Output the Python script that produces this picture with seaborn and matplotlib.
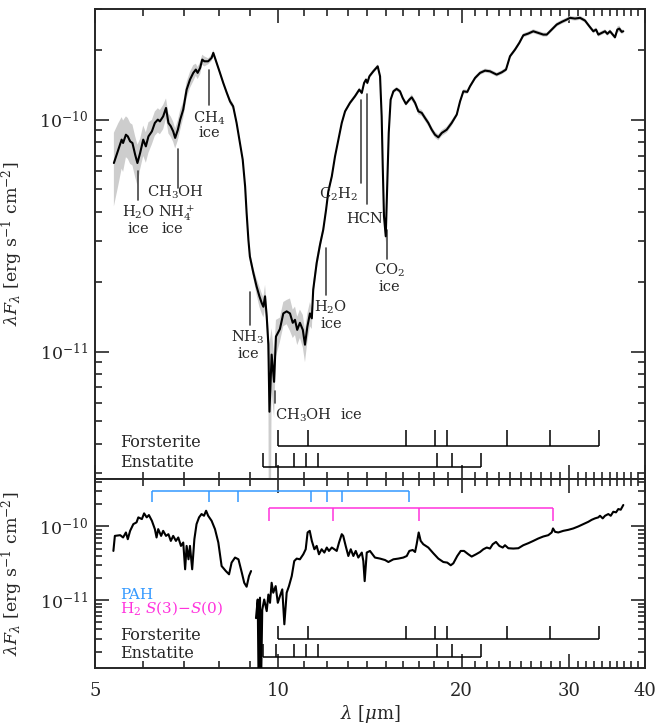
import numpy as np
import pandas as pd
import matplotlib
matplotlib.use('Agg')
import matplotlib.pyplot as plt
import seaborn as sns
from matplotlib.ticker import FixedLocator, FixedFormatter, NullFormatter, LogLocator, LogFormatterSciNotation

# ---------------- data (flux in units of 1e-10 erg s^-1 cm^-2) ----------------
top_lam = [5.37, 5.46, 5.53, 5.56, 5.62, 5.66, 5.71, 5.76, 5.82, 5.87,
           5.93, 6.00, 6.06, 6.12, 6.20, 6.27, 6.34, 6.39, 6.47, 6.54,
           6.60, 6.66, 6.72, 6.77, 6.84, 6.90, 6.98, 7.07, 7.16, 7.25,
           7.32, 7.37, 7.44, 7.50, 7.56, 7.67, 7.77, 7.82, 7.92, 8.02,
           8.12, 8.23, 8.33, 8.43, 8.54, 8.65, 8.74, 8.82, 8.87, 8.93,
           8.98, 9.10, 9.21, 9.31, 9.39, 9.45, 9.51, 9.57, 9.63, 9.67,
           9.75, 9.84, 9.91, 10.06, 10.19, 10.32, 10.45, 10.56, 10.65, 10.74,
           10.85, 10.97, 11.06, 11.16, 11.27, 11.35, 11.41, 11.56, 11.71, 11.85,
           11.98, 12.08, 12.24, 12.39, 12.55, 12.71, 12.87, 13.11, 13.36, 13.58,
           13.71, 13.83, 13.93, 14.00, 14.11, 14.32, 14.56, 14.69, 14.78, 14.84,
           14.91, 15.01, 15.10, 15.18, 15.29, 15.45, 15.64, 15.84, 16.00, 16.20,
           16.41, 16.56, 16.77, 16.98, 17.20, 17.41, 17.63, 17.86, 18.08, 18.31,
           18.55, 18.90, 19.26, 19.63, 19.88, 20.13, 20.43, 20.64, 21.04, 21.44,
           21.85, 22.26, 22.83, 23.27, 23.65, 24.01, 24.47, 24.87, 25.25, 25.73,
           26.22, 26.72, 27.23, 27.59, 28.11, 28.65, 29.20, 29.75, 30.13, 30.70,
           31.29, 31.88, 32.41, 32.90, 33.24, 33.53, 33.96, 34.39, 34.69, 35.04,
           35.48, 35.71, 36.03, 36.30, 36.63, 36.85]
top_flux = [0.650, 0.742, 0.820, 0.793, 0.861, 0.847, 0.806, 0.793, 0.706, 0.650,
            0.718, 0.820, 0.767, 0.847, 0.890, 0.968, 1.000, 0.983, 1.033, 1.123,
            0.968, 0.936, 0.890, 0.834, 0.905, 1.000, 1.105, 1.347, 1.488, 1.591,
            1.644, 1.591, 1.671, 1.815, 1.785, 1.785, 1.846, 1.940, 1.757, 1.591,
            1.440, 1.304, 1.199, 1.141, 0.968, 0.793, 0.672, 0.515, 0.396, 0.303,
            0.257, 0.218, 0.191, 0.173, 0.162, 0.156, 0.173, 0.142, 0.107, 0.055,
            0.097, 0.074, 0.116, 0.125, 0.146, 0.149, 0.146, 0.133, 0.137, 0.124,
            0.133, 0.124, 0.107, 0.128, 0.146, 0.139, 0.185, 0.241, 0.290, 0.335,
            0.410, 0.490, 0.569, 0.694, 0.820, 0.968, 1.086, 1.181, 1.261, 1.347,
            1.304, 1.440, 1.488, 1.440, 1.538, 1.616, 1.698, 1.538, 1.033, 0.629,
            0.383, 0.314, 0.533, 0.876, 1.220, 1.325, 1.357, 1.325, 1.241, 1.169,
            1.220, 1.248, 1.181, 1.086, 1.069, 1.017, 0.968, 0.905, 0.861, 0.839,
            0.876, 0.905, 0.968, 1.051, 1.199, 1.325, 1.317, 1.392, 1.513, 1.591,
            1.627, 1.616, 1.564, 1.600, 1.644, 1.876, 2.005, 2.143, 2.311, 2.351,
            2.405, 2.367, 2.327, 2.327, 2.446, 2.571, 2.640, 2.701, 2.748, 2.728,
            2.748, 2.675, 2.527, 2.405, 2.446, 2.327, 2.367, 2.405, 2.344, 2.405,
            2.311, 2.266, 2.446, 2.470, 2.391, 2.405]
top_err = [0.35, 0.30, 0.25, 0.25, 0.20, 0.20, 0.20, 0.20, 0.20, 0.20,
           0.15, 0.15, 0.15, 0.15, 0.12, 0.12, 0.12, 0.12, 0.12, 0.10,
           0.10, 0.10, 0.10, 0.10, 0.10, 0.10, 0.08, 0.08, 0.08, 0.08,
           0.06, 0.06, 0.06, 0.05, 0.05, 0.03, 0.03, 0.03, 0.02, 0.02,
           0.02, 0.02, 0.03, 0.03, 0.02, 0.02, 0.02, 0.02, 0.02, 0.03,
           0.05, 0.05, 0.08, 0.10, 0.10, 0.10, 0.12, 0.12, 0.20, 0.97,
           0.30, 0.30, 0.18, 0.12, 0.12, 0.12, 0.16, 0.14, 0.14, 0.14,
           0.14, 0.16, 0.16, 0.14, 0.12, 0.10, 0.08, 0.06, 0.05, 0.04,
           0.04, 0.03, 0.03, 0.02, 0.02, 0.02, 0.02, 0.02, 0.02, 0.02,
           0.02, 0.02, 0.02, 0.02, 0.02, 0.02, 0.02, 0.02, 0.03, 0.04,
           0.05, 0.06, 0.04, 0.03, 0.02, 0.02, 0.02, 0.02, 0.02, 0.02,
           0.02, 0.03, 0.03, 0.03, 0.03, 0.03, 0.03, 0.03, 0.03, 0.03,
           0.03, 0.03, 0.03, 0.02, 0.02, 0.02, 0.02, 0.02, 0.02, 0.02,
           0.02, 0.02, 0.02, 0.02, 0.02, 0.02, 0.02, 0.02, 0.02, 0.02,
           0.02, 0.02, 0.02, 0.02, 0.02, 0.02, 0.02, 0.02, 0.02, 0.02,
           0.02, 0.02, 0.02, 0.02, 0.02, 0.02, 0.02, 0.02, 0.02, 0.02,
           0.02, 0.02, 0.03, 0.03, 0.02, 0.02]

bot_lam_a = [5.36, 5.39, 5.50, 5.56, 5.62, 5.66, 5.71, 5.78, 5.85, 5.89,
             5.97, 6.02, 6.08, 6.13, 6.20, 6.27, 6.31, 6.35, 6.42, 6.47,
             6.54, 6.60, 6.66, 6.72, 6.79, 6.85, 6.92, 6.98, 7.03, 7.07,
             7.12, 7.16, 7.22, 7.28, 7.34, 7.41, 7.48, 7.55, 7.61, 7.67,
             7.77, 7.87, 7.97, 8.07, 8.20, 8.30, 8.38, 8.49, 8.60, 8.71,
             8.79, 8.87, 8.95, 9.02]
bot_flux_a = [0.465, 0.744, 0.761, 0.708, 0.828, 0.671, 0.871, 1.075, 1.134, 1.327,
              1.258, 1.504, 1.327, 1.426, 1.192, 0.919, 0.708, 0.919, 0.744, 0.871,
              0.744, 0.785, 0.636, 0.744, 0.636, 0.708, 0.544, 0.605, 0.262, 0.544,
              0.358, 0.544, 0.262, 0.671, 1.075, 1.327, 1.472, 1.395, 1.632, 1.395,
              1.192, 0.919, 0.605, 0.290, 0.248, 0.224, 0.323, 0.378, 0.358, 0.236,
              0.172, 0.152, 0.212, 0.248]
bot_lam_b = [9.19, 9.25, 9.28, 9.33, 9.37, 9.41, 9.48, 9.57, 9.63, 9.69,
             9.75, 9.81, 9.90, 9.98, 10.06, 10.15, 10.23, 10.32, 10.41, 10.52,
             10.62, 10.72, 10.85, 10.99, 11.09, 11.17, 11.26, 11.35, 11.46, 11.56,
             11.66, 11.78, 11.90, 12.01, 12.11, 12.24, 12.36, 12.47, 12.58, 12.71,
             12.78, 12.90, 13.03, 13.15, 13.28, 13.40, 13.53, 13.71, 13.79, 13.86,
             13.97, 14.14, 14.41, 14.69, 14.97, 15.16, 15.45, 15.74, 16.04, 16.25,
             16.41, 16.62, 16.77, 16.87, 17.00, 17.13, 17.30, 17.63, 17.97, 18.31,
             18.66, 18.94, 19.19, 19.38, 19.67, 19.93, 20.18, 20.51, 20.77, 21.12,
             21.44, 21.71, 21.99, 22.26, 22.49, 22.77, 23.06, 23.36, 23.56, 23.86,
             24.31, 24.78, 25.25, 25.73, 26.22, 26.72, 27.23, 27.75, 28.11, 28.25,
             28.47, 28.82, 29.37, 29.93, 30.50, 31.09, 31.68, 32.28, 32.70, 33.11,
             33.53, 33.74, 34.09, 34.39, 34.82, 35.14, 35.48, 35.85, 36.16, 36.49,
             36.85]
bot_flux_b = [0.057, 0.102, 0.008, 0.108, 0.008, 0.074, 0.102, 0.071, 0.119, 0.092,
              0.172, 0.126, 0.155, 0.092, 0.113, 0.140, 0.047, 0.126, 0.155, 0.212,
              0.339, 0.366, 0.358, 0.419, 0.490, 0.828, 0.871, 0.636, 0.490, 0.544,
              0.419, 0.490, 0.442, 0.517, 0.465, 0.517, 0.490, 0.465, 0.605, 0.785,
              0.744, 0.544, 0.397, 0.490, 0.397, 0.465, 0.378, 0.442, 0.339, 0.181,
              0.442, 0.465, 0.378, 0.366, 0.350, 0.329, 0.358, 0.366, 0.378, 0.397,
              0.465, 0.479, 0.450, 0.573, 0.828, 0.636, 0.573, 0.517, 0.432, 0.366,
              0.329, 0.323, 0.297, 0.316, 0.397, 0.465, 0.465, 0.419, 0.390, 0.419,
              0.450, 0.490, 0.517, 0.501, 0.573, 0.616, 0.544, 0.517, 0.556, 0.506,
              0.501, 0.506, 0.556, 0.592, 0.636, 0.686, 0.730, 0.761, 0.828, 0.939,
              0.844, 0.828, 0.871, 0.899, 0.939, 1.000, 1.075, 1.155, 1.230, 1.286,
              1.327, 1.395, 1.286, 1.395, 1.472, 1.395, 1.582, 1.552, 1.722, 1.685,
              1.953]

forsterite = [10.0, 11.2, 16.2, 18.1, 18.9, 23.7, 27.9, 33.6]
enstatite = [9.45, 9.9, 10.6, 11.1, 11.6, 18.2, 19.3, 21.5]
pah = [6.2, 7.7, 8.6, 11.3, 12.0, 12.7, 16.4]
h2_lines = [9.66, 12.28, 17.03, 28.22]

x_ticks = [5, 10, 20, 30, 40]
x_ticklabels = ['5', '10', '20', '30', '40']
x_minor = [6, 7, 8, 9, 11, 12, 13, 14, 15, 16, 17, 18, 19, 21, 22, 23, 24, 25,
           26, 27, 28, 29, 31, 32, 33, 34, 35, 36, 37, 38, 39]

# ice / gas feature labels: (lines of text, text x, baselines, marker x, marker y0, marker y1, ha)
features = [
    (['H$_2$O', 'ice'], 5.89, [0.381, 0.325], 5.89, 0.598, 0.452, 'center'),
    (['CH$_3$OH'], 6.78, [0.468], 6.84, 0.750, 0.509, 'center'),
    (['NH$_4^+$'], 6.81, [0.380], None, None, None, 'center'),
    (['ice'], 6.70, [0.325], None, None, None, 'center'),
    (['CH$_4$', 'ice'], 7.70, [0.973, 0.839], 7.69, 1.644, 1.161, 'center'),
    (['NH$_3$', 'ice'], 8.92, [0.1104, 0.0936], 8.98, 0.180, 0.130, 'center'),
    (['CH$_3$OH  ice'], 9.88, [0.0507], 9.89, 0.0677, 0.0600, 'left'),
    (['H$_2$O', 'ice'], 12.20, [0.1484, 0.1266], 11.98, 0.280, 0.176, 'center'),
    (['CO$_2$', 'ice'], 15.20, [0.2143, 0.1815], 15.06, 0.335, 0.251, 'center'),
    (['C$_2$H$_2$'], 13.51, [0.456], 13.65, 1.220, 0.535, 'right'),
    (['HCN'], 13.85, [0.360], 13.97, 1.295, 0.434, 'center'),
]

# ---------------- style ----------------
sns.set_theme(style='ticks')
plt.rcParams['font.family'] = ['DejaVu Serif', 'DejaVu Sans']
plt.rcParams['mathtext.fontset'] = 'dejavuserif'
plt.rcParams['axes.linewidth'] = 1.4

W, H = 656, 724
fig = plt.figure(figsize=(W / 100, H / 100), dpi=100)
ax1 = fig.add_axes([95 / W, 1 - 479 / H, 550 / W, 470 / H])
ax2 = fig.add_axes([95 / W, 1 - 668 / H, 550 / W, 189 / H])

E10 = 1e-10
top = pd.DataFrame({'lam': top_lam, 'flux': np.array(top_flux) * E10,
                    'err': top_err})
bot = pd.concat([
    pd.DataFrame({'lam': bot_lam_a, 'flux': np.array(bot_flux_a) * E10, 'seg': 0}),
    pd.DataFrame({'lam': bot_lam_b, 'flux': np.array(bot_flux_b) * E10, 'seg': 1}),
])

# top panel
ax1.fill_between(top['lam'], top['flux'] * (1 - top['err']),
                 top['flux'] * (1 + top['err']), color='#cdcdcd', lw=0, zorder=1)
sns.lineplot(data=top, x='lam', y='flux', ax=ax1, color='black', lw=1.5,
             sort=False, estimator=None, zorder=3)
# bottom panel
sns.lineplot(data=bot, x='lam', y='flux', units='seg', estimator=None, sort=False,
             ax=ax2, color='black', lw=1.5, zorder=3)

YLAB = r'$\lambda F_\lambda$ [erg s$^{-1}$ cm$^{-2}$]'
for ax in (ax1, ax2):
    ax.set_xscale('log')
    ax.set_yscale('log')
    ax.set_xlim(5, 40)
    ax.xaxis.set_major_locator(FixedLocator(x_ticks))
    ax.xaxis.set_minor_locator(FixedLocator(x_minor))
    ax.xaxis.set_minor_formatter(NullFormatter())
    ax.yaxis.set_major_locator(LogLocator(base=10))
    ax.yaxis.set_minor_locator(LogLocator(base=10, subs=np.arange(2, 10)))
    ax.yaxis.set_major_formatter(LogFormatterSciNotation())
    ax.yaxis.set_minor_formatter(NullFormatter())
    ax.tick_params(which='both', direction='in', top=True, right=True, width=1.2)
    ax.tick_params(which='major', length=10)
    ax.tick_params(which='minor', length=5)
    ax.tick_params(axis='y', labelsize=12.5, pad=5)
    ax.tick_params(axis='x', labelsize=13, pad=10)
    ax.set_ylabel(YLAB, fontsize=12.5)
    ax.yaxis.set_label_coords(-0.127, 0.5)
    ax.set_xlabel('')

ax1.set_ylim(2.82e-12, 3.0e-10)
ax2.set_ylim(1.2e-12, 4.4e-10)
ax1.xaxis.set_major_formatter(NullFormatter())
ax2.xaxis.set_major_formatter(FixedFormatter(x_ticklabels))
ax2.set_xlabel(r'$\lambda$ [$\mu$m]', fontsize=13)
ax2.xaxis.set_label_coords(0.5, -0.185)


def bracket(ax, xs, y_line, y_tick, color, lw=1.1):
    ax.plot([min(xs), max(xs)], [y_line, y_line], color=color, lw=lw,
            solid_capstyle='butt', zorder=2)
    ax.vlines(xs, y_line, y_tick, color=color, lw=lw, zorder=2)


FS = 11.5
# top panel features
for lines, tx, bases, mx, my0, my1, ha in features:
    for s, b in zip(lines, bases):
        ax1.text(tx, b * E10, s, ha=ha, va='baseline', fontsize=10.5)
    if mx is not None:
        ax1.plot([mx, mx], [my0 * E10, my1 * E10], color='#444444', lw=1.2, zorder=2)

bracket(ax1, forsterite, 0.0392 * E10, 0.0459 * E10, 'black')
bracket(ax1, enstatite, 0.0319 * E10, 0.0366 * E10, 'black')
ax1.text(5.50, 0.0388 * E10, 'Forsterite', fontsize=FS, va='baseline')
ax1.text(5.50, 0.0319 * E10, 'Enstatite', fontsize=FS, va='baseline')

# bottom panel markers
PAH_C = '#3399ff'
H2_C = '#ff33dd'
bracket(ax2, pah, 3.06 * E10, 2.145 * E10, PAH_C)
bracket(ax2, h2_lines, 1.76 * E10, 1.18 * E10, H2_C)
bracket(ax2, forsterite, 0.0299 * E10, 0.0450 * E10, 'black')
bracket(ax2, enstatite, 0.0168 * E10, 0.0253 * E10, 'black')
ax2.text(5.50, 0.104 * E10, 'PAH', color=PAH_C, fontsize=11, va='baseline')
ax2.text(5.50, 0.0670 * E10, r'H$_2$ $S$(3)$-$$S$(0)', color=H2_C, fontsize=11, va='baseline')
ax2.text(5.50, 0.0290 * E10, 'Forsterite', fontsize=FS, va='baseline')
ax2.text(5.50, 0.0163 * E10, 'Enstatite', fontsize=FS, va='baseline')

fig.savefig('out.png', dpi=100)
